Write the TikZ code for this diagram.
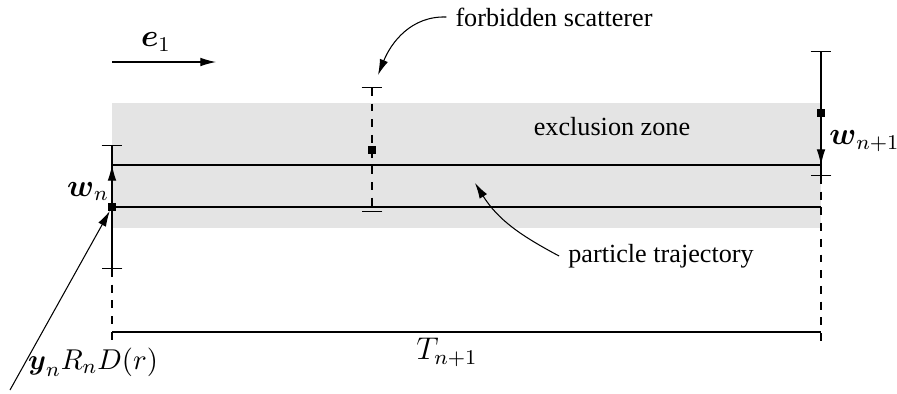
\documentclass[tikz,border=0pt]{standalone}
\usepackage{amsmath,amssymb}
\usepackage[no-math]{fontspec}
\setmainfont{Liberation Serif}
\usepackage{xcolor}
\usepackage{tikz}
\usetikzlibrary{positioning,arrows.meta,calc}
\definecolor{zoneGray}{HTML}{E4E4E4}

\begin{document}
\begin{tikzpicture}[
    x=0.382pt, y=-0.382pt,
    dot/.style={draw, fill=black, inner sep=0pt, minimum size=2.6pt},
    dim/.style={{Bar[width=8pt]}-{Bar[width=8pt]}},
    arr/.style={-{Latex[length=6pt,width=3.3pt]}},
    lbl/.style={inner sep=1pt, font=\large}
  ]
  \useasboundingbox (0,0) rectangle (897,393);
  % exclusion zone and trajectory
  \fill[zoneGray] (112,103) rectangle (821,228);
  \coordinate (tl) at (112,165);
  \coordinate (tr) at (821,165);
  \coordinate (bl) at (112,207);
  \coordinate (br) at (821,207);
  \draw (tl) -- (tr);
  \draw (bl) -- (br);

  % scatterers
  \node[dot] (yn)  at (112,207) {};
  \node[dot] (sc)  at (372,150) {};
  \node[dot] (yn1) at (821,113) {};

  \coordinate (ynt) at (112,145);
  \coordinate (ynb) at (112,269);
  \coordinate (sct) at (372,87);
  \coordinate (scb) at (372,212);
  \coordinate (yn1t) at (821,51);
  \coordinate (yn1b) at (821,176);
  \coordinate (bal) at (112,343);
  \coordinate (bar) at (821,343);

  \draw[dim] (ynt) -- (ynb);
  \draw[dim, dashed] (sct) -- (scb);
  \draw[dim] (yn1t) -- (yn1b);
  \draw[dashed] (ynb) -- (bal);
  \draw[dashed] (yn1b) -- (bar);

  \draw[arr] (yn) -- node[left, pos=0.3, lbl] {$\boldsymbol{w}_n$} (tl);
  \draw[arr] (yn1) -- node[right, lbl, inner sep=3pt] {$\boldsymbol{w}_{n+1}$} (tr);

  % time span
  \coordinate (tsl) at (112,332);
  \coordinate (tsr) at (821,332);
  \draw (tsl) -- (tsr);
  \node[lbl] (tn) at (447,352) {$T_{n+1}$};

  % direction
  \coordinate (e1s) at (112,62);
  \coordinate (e1e) at (216,62);
  \draw[arr] (e1s) -- (e1e);
  \node[lbl] (e1) at (156,42) {$\boldsymbol{e}_1$};

  % labels
  \node (ez) at (612,127) {exclusion zone};
  \node (fs) at (554,17) {forbidden scatterer};
  \node (pt) at (661,256) {particle trajectory};
  \node[lbl, font=\fontsize{11}{13}\selectfont] (yr) at (93,362) {$\boldsymbol{y}_n R_n D(r)$};

  \coordinate (fst) at (378,75);
  \coordinate (ptt) at (475,183);
  \coordinate (yrs) at (10,390);
  \draw[arr] (fs.west) to[out=178, in=68] (fst);
  \draw[arr] (pt.west) to[out=152, in=-58] (ptt);
  \draw[arr] (yrs) -- (yn);
\end{tikzpicture}
\end{document}
